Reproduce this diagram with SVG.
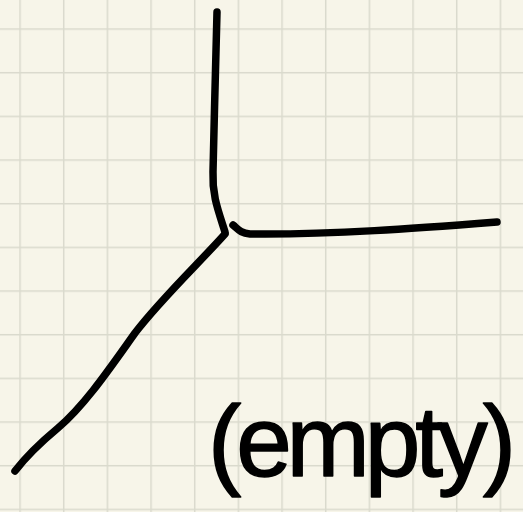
<svg xmlns="http://www.w3.org/2000/svg" width="523" height="512" viewBox="0 0 523 512">
  <defs>
    <pattern id="grid" patternUnits="userSpaceOnUse" x="19.3" y="28.3" width="43.667" height="43.667">
      <path d="M0.75,0 V43.667 M0,0.75 H43.667" fill="none" stroke="#dadacd" stroke-width="1.5"/>
    </pattern>
    <style>
      .ink { fill: none; stroke: #000; stroke-width: 7.5; stroke-linecap: round; stroke-linejoin: round; }
      .hand { font-family: "Liberation Sans", "DejaVu Sans", sans-serif; font-size: 100px; fill: #000; stroke: #000; stroke-width: 1.5; stroke-linejoin: round; }
    </style>
  </defs>
  <rect width="523" height="512" fill="#f7f5e9"/>
  <rect width="523" height="512" fill="url(#grid)"/>
  <g id="connectors">
    <path class="ink" d="M217,12 C216,60 214,120 213,172 C212,195 218,210 225,232"/>
    <path class="ink" d="M225,234 C200,262 160,300 135,333 C110,368 85,405 58,428 C40,443 25,458 15,471"/>
    <path class="ink" d="M233,225 C238,229 240,233 250,234 C330,235 420,228 497,222"/>
  </g>
  <g id="label">
    <text class="hand" x="208" y="476" textLength="308" lengthAdjust="spacing">(empty)</text>
  </g>
</svg>
